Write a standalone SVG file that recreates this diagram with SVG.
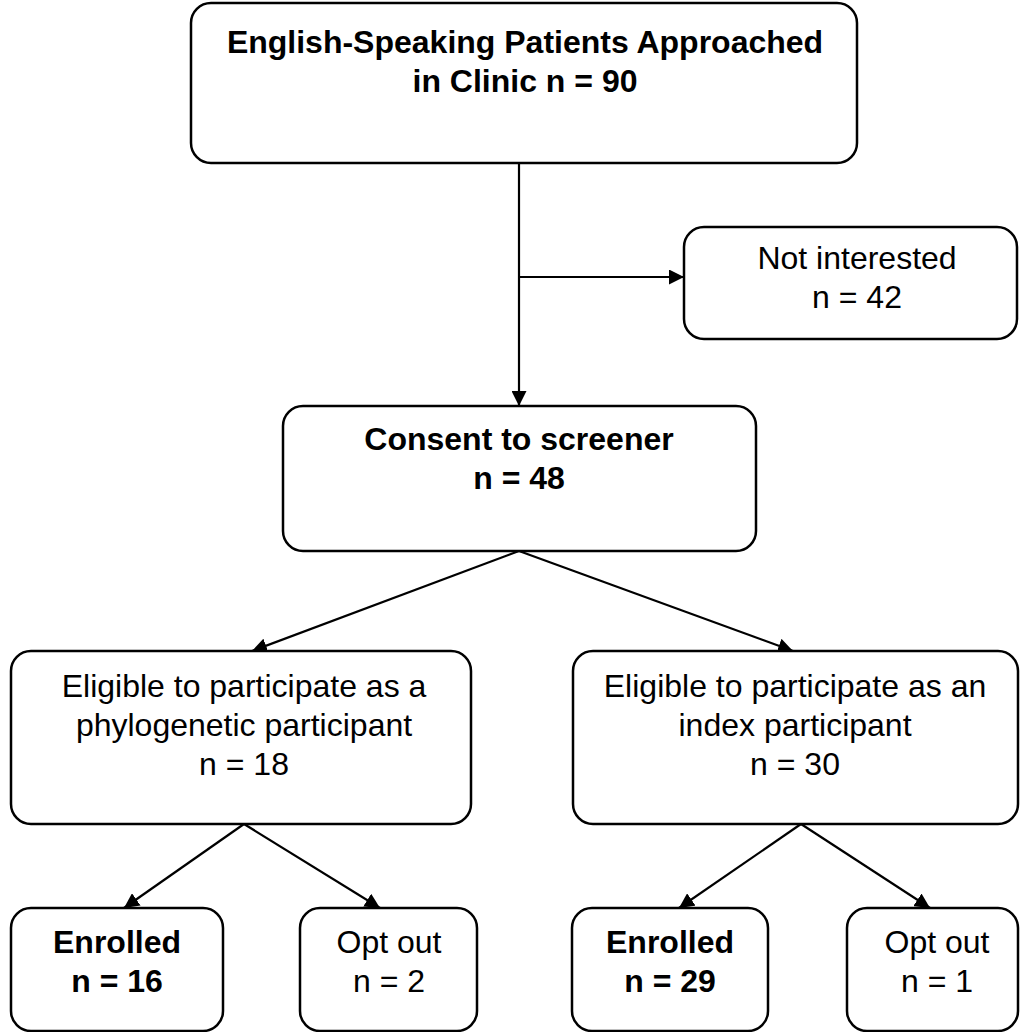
<svg xmlns="http://www.w3.org/2000/svg" width="1020" height="1032" viewBox="0 0 1020 1032">
<style>
.box{fill:#fff;stroke:#000;stroke-width:2.5}
.t{font-family:"Liberation Sans",Arial,sans-serif;font-size:32px;fill:#000;text-anchor:middle}
.b{font-weight:bold}
.c{fill:none;stroke:#000;stroke-width:2.2}
</style>
<defs>
<marker id="ah" viewBox="0 0 14 14" refX="14" refY="7" markerWidth="15" markerHeight="15" markerUnits="userSpaceOnUse" orient="auto">
<path d="M0,0 L14,7 L0,14 z" fill="#000"/>
</marker>
</defs>
<rect width="1020" height="1032" fill="#fff"/>
<g id="connectors">
<line class="c" x1="519" y1="163" x2="519" y2="406" marker-end="url(#ah)"/>
<line class="c" x1="519" y1="277" x2="684" y2="277" marker-end="url(#ah)"/>
<line class="c" x1="519" y1="551" x2="252" y2="651" marker-end="url(#ah)"/>
<line class="c" x1="519" y1="551" x2="793" y2="651" marker-end="url(#ah)"/>
<line class="c" x1="244" y1="824" x2="124" y2="908" marker-end="url(#ah)"/>
<line class="c" x1="244" y1="824" x2="380" y2="908" marker-end="url(#ah)"/>
<line class="c" x1="801" y1="824" x2="679" y2="908" marker-end="url(#ah)"/>
<line class="c" x1="801" y1="824" x2="930" y2="908" marker-end="url(#ah)"/>
</g>
<g id="approached">
<rect class="box" x="191" y="3" width="666" height="160" rx="20"/>
<text class="t b" x="525" y="53">English-Speaking Patients Approached</text>
<text class="t b" x="525" y="92">in Clinic n = 90</text>
</g>
<g id="not-interested">
<rect class="box" x="684" y="227" width="333" height="112" rx="20"/>
<text class="t" x="857" y="269">Not interested</text>
<text class="t" x="857" y="308">n = 42</text>
</g>
<g id="consent">
<rect class="box" x="283" y="406" width="473" height="145" rx="20"/>
<text class="t b" x="519" y="450">Consent to screener</text>
<text class="t b" x="519" y="489">n = 48</text>
</g>
<g id="eligible-phylo">
<rect class="box" x="11" y="651" width="460" height="173" rx="20"/>
<text class="t" x="244" y="697">Eligible to participate as a</text>
<text class="t" x="244" y="736">phylogenetic participant</text>
<text class="t" x="244" y="775">n = 18</text>
</g>
<g id="eligible-index">
<rect class="box" x="573" y="651" width="445" height="173" rx="20"/>
<text class="t" x="795" y="697">Eligible to participate as an</text>
<text class="t" x="795" y="736">index participant</text>
<text class="t" x="795" y="775">n = 30</text>
</g>
<g id="enrolled-phylo">
<rect class="box" x="11" y="908" width="212" height="123" rx="20"/>
<text class="t b" x="117" y="953">Enrolled</text>
<text class="t b" x="117" y="992">n = 16</text>
</g>
<g id="optout-phylo">
<rect class="box" x="300" y="908" width="177" height="123" rx="20"/>
<text class="t" x="389" y="953">Opt out</text>
<text class="t" x="389" y="992">n = 2</text>
</g>
<g id="enrolled-index">
<rect class="box" x="572" y="908" width="196" height="123" rx="20"/>
<text class="t b" x="670" y="953">Enrolled</text>
<text class="t b" x="670" y="992">n = 29</text>
</g>
<g id="optout-index">
<rect class="box" x="847" y="908" width="171" height="123" rx="20"/>
<text class="t" x="937" y="953">Opt out</text>
<text class="t" x="937" y="992">n = 1</text>
</g>
</svg>
